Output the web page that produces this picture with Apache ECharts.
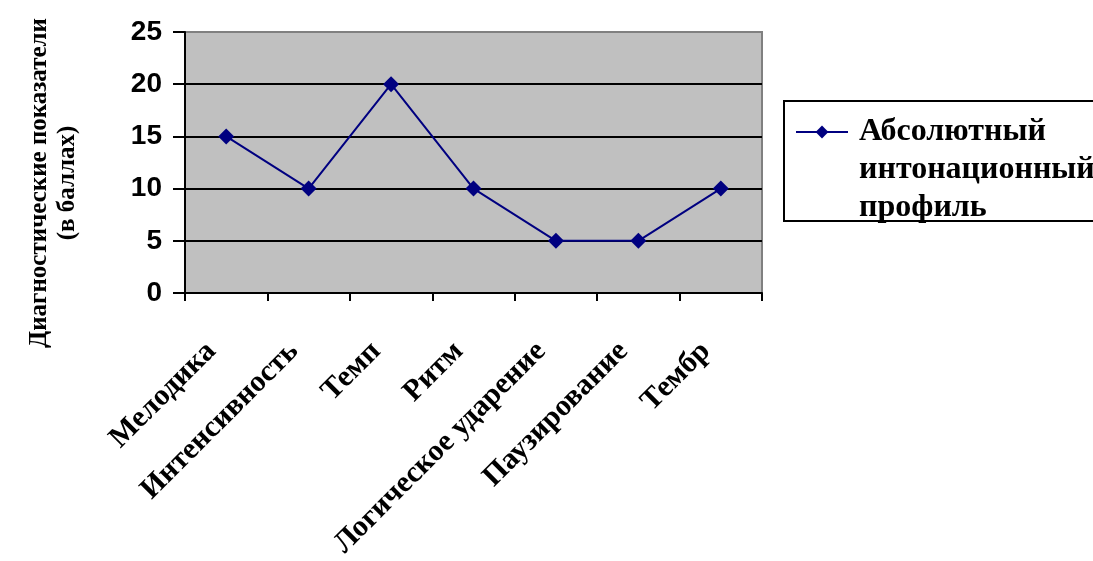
<!DOCTYPE html>
<html>
<head>
<meta charset="utf-8">
<script src="https://cdn.jsdelivr.net/npm/echarts@6/dist/echarts.min.js"></script>
<style>html,body{margin:0;padding:0;background:#fff;}#c{width:1093px;height:561px;}</style>
</head>
<body>
<div id="c"></div>
<script>
var categories = ['Мелодика', 'Интенсивность', 'Темп', 'Ритм', 'Логическое ударение', 'Паузирование', 'Тембр'];
var values = [15, 10, 20, 10, 5, 5, 10];
var seriesName = 'Абсолютный\nинтонационный\nпрофиль';
var yTitle = 'Диагностические показатели\n(в баллах)';

var chart = echarts.init(document.getElementById('c'), null, {renderer: 'canvas'});
chart.setOption({
  animation: false,
  backgroundColor: '#ffffff',
  grid: {
    left: 185, right: 331, top: 32, bottom: 268,
    outerBoundsMode: 'none', containLabel: false,
    show: true, backgroundColor: '#c0c0c0', borderColor: '#808080', borderWidth: 2
  },
  graphic: [
    {
      type: 'text', x: 54, y: 183, rotation: Math.PI / 2,
      style: {
        text: yTitle, fontFamily: 'Liberation Serif', fontWeight: 'bold', fontSize: 25,
        lineHeight: 28, align: 'center', verticalAlign: 'middle', fill: '#000'
      }
    },
    {
      type: 'rect', shape: {x: 784, y: 101, width: 330, height: 120},
      style: {fill: 'none', stroke: '#000', lineWidth: 2}
    }
  ],
  legend: {
    left: 795, top: 37, padding: 0,
    itemWidth: 52, itemHeight: 16,
    data: [seriesName],
    formatter: function (n) { return '\n\n' + n; },
    textStyle: {
      fontFamily: 'Liberation Serif', fontWeight: 'bold', fontSize: 32, color: '#000',
      lineHeight: 38, padding: [0, 0, 0, 6]
    }
  },
  xAxis: {
    type: 'category', data: categories, boundaryGap: true,
    axisLine: {lineStyle: {color: '#000', width: 2}},
    axisTick: {show: true, length: 8, lineStyle: {color: '#000', width: 2}},
    axisLabel: {
      rotate: 45, interval: 0, margin: 39, color: '#000',
      fontFamily: 'Liberation Serif', fontWeight: 'bold', fontSize: 30,
      padding: [0, 21, 0, 0]
    }
  },
  yAxis: {
    type: 'value', min: 0, max: 25, interval: 5,
    axisLine: {show: true, lineStyle: {color: '#000', width: 2}},
    axisTick: {show: true, length: 12, lineStyle: {color: '#000', width: 2}},
    splitLine: {show: true, lineStyle: {color: ['#000', '#000', '#000', '#000', '#000', '#808080'], width: 2}},
    axisLabel: {
      margin: 23, color: '#000', fontFamily: 'Liberation Sans', fontWeight: 'bold', fontSize: 28
    }
  },
  series: [{
    name: seriesName, type: 'line', data: values,
    symbol: 'diamond', symbolSize: 16,
    lineStyle: {color: '#000080', width: 2},
    itemStyle: {color: '#000080'}
  }]
});
</script>
</body>
</html>
